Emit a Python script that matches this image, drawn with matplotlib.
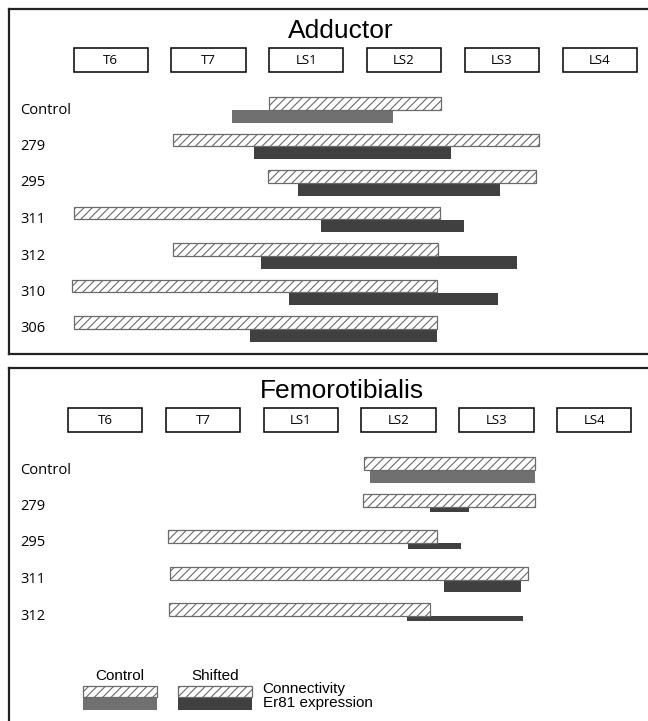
import numpy as np
import matplotlib
matplotlib.use('Agg')
import matplotlib.pyplot as plt

# spinal segments shown as boxes along the top of each panel
segments = ['T6', 'T7', 'LS1', 'LS2', 'LS3', 'LS4']

# Adductor: start / end of connectivity and Er81 expression (segment units)
add_rows = ['Control', '279', '295', '311', '312', '310', '306']
add_conn_start = [2.00, 1.02, 1.99, 0.00, 1.02, -0.02, 0.00]
add_conn_end = [3.755, 4.76, 4.73, 3.745, 3.73, 3.72, 3.72]
add_er81_start = [1.62, 1.85, 2.30, 2.53, 1.92, 2.20, 1.80]
add_er81_end = [3.27, 3.86, 4.36, 3.99, 4.53, 4.34, 3.72]

# Femorotibialis
fem_rows = ['Control', '279', '295', '311', '312']
fem_conn_start = [3.03, 3.02, 1.02, 1.04, 1.03]
fem_conn_end = [4.77, 4.77, 3.77, 4.70, 3.70]
fem_er81_start = [3.09, 3.70, 3.48, 3.84, 3.47]
fem_er81_end = [4.77, 4.10, 4.02, 4.63, 4.65]
fem_er81_level = [1.0, 0.45, 0.45, 1.0, 0.4]   # relative thickness of expression bar

ctrl_gray = '#707070'
shift_gray = '#404040'
hatch_edge = '#6a6a6a'
label_font = 'Open Sans'
title_font = 'Liberation Sans'

plt.rcParams['hatch.linewidth'] = 0.8

W, H = 648, 721
SEG_PX = 97.8   # pixels per segment
ROW_PX = 36.5   # pixels per row
fig = plt.figure(figsize=(W / 100, H / 100), dpi=100)


def panel(top_px, bottom_px, seg_left_px, row0_px):
    left_px, right_px = 8.5, 700
    ax = fig.add_axes([left_px / W, 1 - bottom_px / H,
                       (right_px - left_px) / W, (bottom_px - top_px) / H])
    ax.set_xlim((left_px - seg_left_px) / SEG_PX, (right_px - seg_left_px) / SEG_PX)
    ax.set_ylim((bottom_px - row0_px) / ROW_PX, (top_px - row0_px) / ROW_PX)
    ax.set_xticks([])
    ax.set_yticks([])
    for s in ['left', 'top', 'bottom']:
        ax.spines[s].set_linewidth(1.6)
        ax.spines[s].set_color('#222222')
    ax.spines['right'].set_visible(False)
    return ax


def draw(ax, title, rows, cs, ce, es, ee, lvl, label_x, title_x):
    y = np.arange(len(rows))
    h = 0.356
    ax.text(title_x, -2.17, title, ha='center', va='center', fontsize=19,
            family=title_font)
    seg_x = np.arange(len(segments))
    ax.barh(np.full(len(segments), -1.69), 0.76, left=seg_x, height=0.66,
            align='edge', color='white', edgecolor='black', linewidth=1.1)
    for i, s in enumerate(segments):
        ax.text(i + 0.38, -1.36, s, ha='center', va='center', fontsize=9.5,
                family=label_font)
    colors = [ctrl_gray] + [shift_gray] * (len(rows) - 1)
    ax.barh(y, np.array(ee) - np.array(es), left=es, height=h * np.array(lvl),
            align='edge', color=colors, linewidth=0)
    ax.barh(y - h, np.array(ce) - np.array(cs), left=cs, height=h,
            align='edge', color='white', edgecolor=hatch_edge, hatch='////',
            linewidth=0.9)
    for yi, r in zip(y, rows):
        ax.text(label_x, yi, r, ha='left', va='center', fontsize=10.5,
                family=label_font)


ax1 = panel(9, 354, 73.5, 110)
draw(ax1, 'Adductor', add_rows, add_conn_start, add_conn_end,
     add_er81_start, add_er81_end, [1.0] * len(add_rows), -0.547, 2.73)

ax2 = panel(368, 740, 68, 470)
draw(ax2, 'Femorotibialis', fem_rows, fem_conn_start, fem_conn_end,
     fem_er81_start, fem_er81_end, fem_er81_level, -0.49, 2.80)

# legend
lx = [0.153, 1.125]
ax2.barh([6.22, 6.22], 0.757, left=lx, height=0.355, align='edge',
         color=[ctrl_gray, shift_gray], linewidth=0)
ax2.barh([5.92, 5.92], 0.757, left=lx, height=0.30, align='edge',
         color='white', edgecolor=hatch_edge, hatch='////', linewidth=0.9)
ax2.text(lx[0] + 0.378, 5.64, 'Control', ha='center', va='center',
         fontsize=11, family=title_font)
ax2.text(lx[1] + 0.378, 5.64, 'Shifted', ha='center', va='center',
         fontsize=11, family=title_font)
ax2.text(1.99, 6.01, 'Connectivity', ha='left', va='center', fontsize=11,
         family=title_font)
ax2.text(1.99, 6.38, 'Er81 expression', ha='left', va='center', fontsize=11,
         family=title_font)

fig.savefig('out.png', dpi=100)
